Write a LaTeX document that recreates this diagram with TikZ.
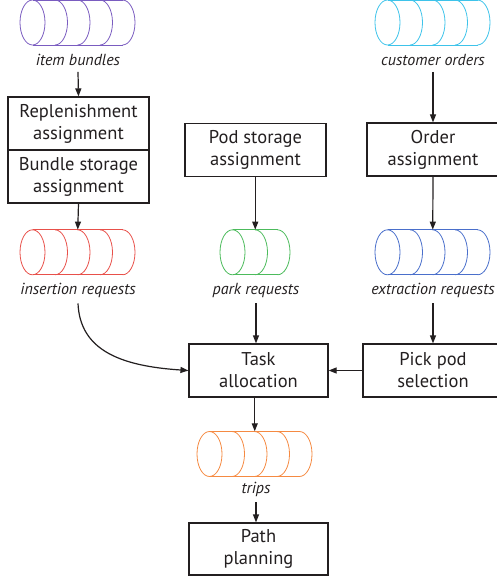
\documentclass[tikz,border=0pt]{standalone}
\usepackage{fontspec}
\setmainfont{PT Sans}
\usetikzlibrary{arrows.meta}
\definecolor{ink}{HTML}{231F20}
\definecolor{qpurple}{HTML}{7A5CC0}
\definecolor{qcyan}{HTML}{3EC3EA}
\definecolor{qred}{HTML}{E8504A}
\definecolor{qgreen}{HTML}{4CBB5C}
\definecolor{qblue}{HTML}{4A6FCB}
\definecolor{qorange}{HTML}{F58A42}
\newcommand\drawqueue[4]{%
  \draw[#1, line width=0.8pt] (#2,#3) ellipse [x radius=12.5, y radius=22.5];
  \foreach \k in {1,...,#4}{\draw[#1, line width=0.8pt] ({#2+22.5*\k},{#3-22.5}) arc[start angle=-90, end angle=90, x radius=12.5, y radius=22.5];}
  \draw[#1, line width=0.8pt] (#2,{#3-22.5}) -- ({#2+22.5*#4},{#3-22.5}) (#2,{#3+22.5}) -- ({#2+22.5*#4},{#3+22.5});
}
\begin{document}
\begin{tikzpicture}[x=1pt,y=-1pt,
  box/.style={draw=ink, line width=1.2pt, text=ink, align=center, inner sep=0pt,
    minimum height=53pt, font=\fontsize{18.5}{22}\selectfont},
  lbl/.style={text=ink, inner xsep=1pt, inner ysep=6pt, font=\fontsize{16}{18}\selectfont\itshape},
  arr/.style={draw=ink, line width=1.2pt, -{Triangle[length=8pt,width=6pt]}},
  qbox/.style={inner sep=0pt, minimum height=45pt, minimum width=#1}]
\useasboundingbox (0,0) rectangle (496,580);

% queues
\drawqueue{qpurple}{32.5}{22.5}{4}
\node[qbox=115.5pt] (ibq) at (77.75,22.5) {};
\node[lbl] (ibl) at (78,60) {item bundles};

\drawqueue{qcyan}{387.5}{22.5}{4}
\node[qbox=115.5pt] (coq) at (432.75,22.5) {};
\node[lbl] (col) at (433,60) {customer orders};

\drawqueue{qred}{32.5}{252.3}{4}
\node[qbox=115.5pt] (irq) at (77.75,252.3) {};
\node[lbl] (irl) at (78,290) {insertion requests};

\drawqueue{qgreen}{232.5}{252.3}{2}
\node[qbox=70.5pt] (prq) at (255.25,252.3) {};
\node[lbl] (prl) at (256,290) {park requests};

\drawqueue{qblue}{387.5}{252.3}{4}
\node[qbox=115.5pt] (erq) at (432.75,252.3) {};
\node[lbl] (erl) at (433,290) {extraction requests};

\drawqueue{qorange}{209.5}{454}{4}
\node[qbox=115.5pt] (trq) at (254.75,454) {};
\node[lbl] (trl) at (256,489) {trips};

% boxes
\node[box, minimum width=141pt] (rep) at (78.5,123.5) {Replenishment\\assignment};
\node[box, minimum width=141pt] (bun) at (78.5,176.5) {Bundle storage\\assignment};
\node[box, minimum width=141pt] (pod) at (255.5,150) {Pod storage\\assignment};
\node[box, minimum width=132pt] (ord) at (433,149.5) {Order\\assignment};
\node[box, minimum width=139pt] (task) at (258.5,370.5) {Task\\allocation};
\node[box, minimum width=140pt] (pick) at (433,370.5) {Pick pod\\selection};
\node[box, minimum width=139pt, minimum height=52pt] (path) at (258.5,549) {Path\\planning};

% connectors
\draw[arr] (ibl.south) -- (rep.north);
\draw[arr] (bun.south) -- (irq.north);
\draw[arr] (pod.south -| prq.north) -- (prq.north);
\draw[arr] (col.south) -- (ord.north);
\draw[arr] (ord.south) -- (erq.north);
\draw[arr] (prl.south) -- (prl.south |- task.north);
\draw[arr] (erl.south) -- (pick.north);
\draw[arr] (pick.west) -- (task.east);
\draw[arr] (irl.south) .. controls (80,350) and (120,366) .. (task.west);
\draw[arr] (task.south -| trq.north) -- (trq.north);
\draw[arr] (trl.south) -- (trl.south |- path.north);
\end{tikzpicture}
\end{document}
